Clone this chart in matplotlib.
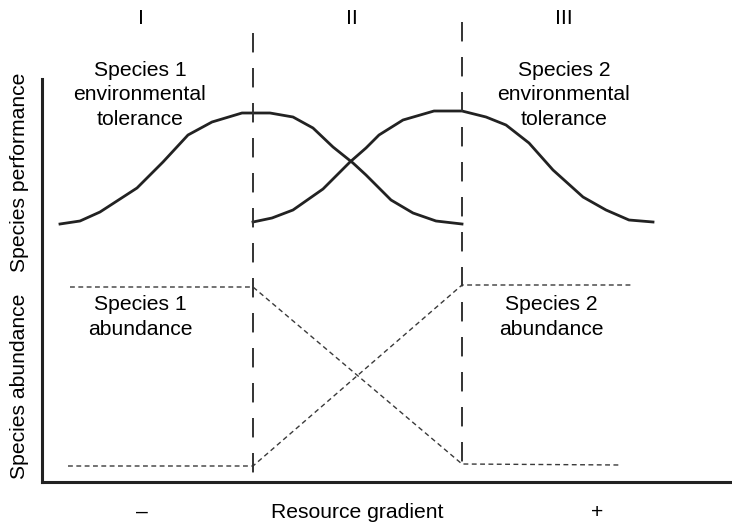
import matplotlib.pyplot as plt

plt.rcParams['font.family'] = ['Liberation Sans', 'DejaVu Sans']

# resource gradient position (x) and level (y)
sp1_perf_x = [18, 38, 58, 95, 121, 146, 170, 200, 228, 251, 271, 291, 311, 324, 349, 371, 394, 420]
sp1_perf_y = [258, 261, 270, 294, 320, 347, 360, 369, 369, 365, 354, 335, 319, 307, 282, 269, 261, 258]

sp2_perf_x = [211, 230, 251, 281, 308, 324, 337, 361, 392, 420, 444, 464, 487, 511, 541, 564, 587, 611]
sp2_perf_y = [260, 264, 272, 293, 320, 334, 347, 362, 371, 371, 365, 357, 339, 312, 285, 272, 262, 260]

sp1_abund_x = [28, 211, 420, 578]
sp1_abund_y = [195, 195, 18, 17]

sp2_abund_x = [26, 211, 420, 590]
sp2_abund_y = [16, 16, 197, 197]

zone_bounds = [211, 420]
bound_top = [449, 460]
bound_bottom = [8, 5]

zone_labels = ["I", "II", "III"]
zone_label_x = [99, 310, 522]

ink = "#222222"
fs = 15.2

fig = plt.figure(figsize=(7.32, 5.25), dpi=100)
ax = fig.add_axes([42 / 732, 43 / 525, 690 / 732, 403 / 525])
ax.set_xlim(0, 690)
ax.set_ylim(0, 403)

for s in ["top", "right"]:
    ax.spines[s].set_visible(False)
for s in ["left", "bottom"]:
    ax.spines[s].set_linewidth(2.2)
    ax.spines[s].set_color(ink)
ax.set_xticks([])
ax.set_yticks([])

# performance curves
ax.plot(sp1_perf_x, sp1_perf_y, color=ink, lw=2.0, solid_joinstyle="round")
ax.plot(sp2_perf_x, sp2_perf_y, color=ink, lw=2.0, solid_joinstyle="round")

# abundance lines
ax.plot(sp1_abund_x, sp1_abund_y, color="#3a3a3a", lw=1.0, dashes=(3.5, 2.5))
ax.plot(sp2_abund_x, sp2_abund_y, color="#3a3a3a", lw=1.0, dashes=(3.5, 2.5))

# zone boundaries
for xb, yt, yb in zip(zone_bounds, bound_top, bound_bottom):
    ax.plot([xb, xb], [yt, yb], color="#333333", lw=1.4, dashes=(10, 8), clip_on=False)

for lab, xl in zip(zone_labels, zone_label_x):
    ax.text(xl, 464, lab, ha="center", va="center", fontsize=fs, clip_on=False)

ax.text(98, 387, "Species 1\nenvironmental\ntolerance", ha="center", va="center",
        fontsize=fs, linespacing=1.38)
ax.text(522, 387, "Species 2\nenvironmental\ntolerance", ha="center", va="center",
        fontsize=fs, linespacing=1.38)
ax.text(98, 165, "Species 1\nabundance", ha="center", va="center",
        fontsize=fs, linespacing=1.38)
ax.text(509, 165, "Species 2\nabundance", ha="center", va="center",
        fontsize=fs, linespacing=1.38)

ax.text(100, -30, "\u2013", ha="center", va="center", fontsize=fs)
ax.text(315, -30, "Resource gradient", ha="center", va="center", fontsize=fs)
ax.text(555, -30, "+", ha="center", va="center", fontsize=fs)

ax.text(-22, 310, "Species performance", rotation=90, ha="center", va="center", fontsize=fs)
ax.text(-22, 96, "Species abundance", rotation=90, ha="center", va="center", fontsize=fs)

fig.savefig("out.png", dpi=100)
